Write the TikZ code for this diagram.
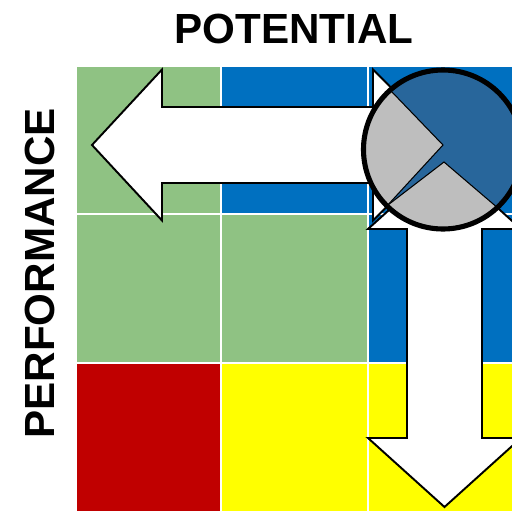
\documentclass[tikz,border=0pt]{standalone}
\usepackage{fontspec}
\setmainfont{Liberation Sans}
\usepackage{xcolor}
\usepackage{tikz}

\definecolor{cellgreen}{RGB}{143,194,131}
\definecolor{cellblue}{RGB}{0,112,192}
\definecolor{cellred}{RGB}{192,0,0}
\definecolor{cellyellow}{RGB}{255,255,0}
\definecolor{pieblue}{RGB}{40,102,155}
\definecolor{piegray}{RGB}{190,190,190}

\begin{document}
\begin{tikzpicture}
            [x=0.02cm, y=-0.02cm,
            axislabel/.style={inner sep=0pt, font=\fontsize{24}{28}\selectfont\bfseries},
            bigarrow/.style={draw=black, fill=white, line width=1.1pt, line join=miter},
            slice/.style={draw=black, fill=piegray, line width=0.6pt}]

            \clip (0,0) rectangle (512,511);
            \fill[white] (0,0) rectangle (512,511);

            % grid of boxes, row by row
            \foreach \row/\ya/\yb/\ca/\cb/\cc in {1/67/213/cellgreen/cellblue/cellblue,
                                                 2/215/362/cellgreen/cellgreen/cellblue,
                                                 3/364/511/cellred/cellyellow/cellyellow} {
                \fill[\ca] (77,\ya) rectangle (220,\yb);
                \fill[\cb] (222,\ya) rectangle (367,\yb);
                \fill[\cc] (369,\ya) rectangle (516,\yb);
            }

            \node[axislabel] (potential) at (294,28.5) {POTENTIAL};
            \node[axislabel, rotate=90] (performance) at (39.5,273.5) {PERFORMANCE};

            \draw[bigarrow] (92,145) -- (162,69.5) -- (162,107) -- (373,107) -- (373,69.5)
                -- (448,145) -- (373,220.5) -- (373,183) -- (162,183) -- (162,220.5) -- cycle;
            \draw[bigarrow] (444.5,160) -- (521,229) -- (482,229) -- (482,438) -- (521,438)
                -- (444.5,507) -- (368,438) -- (407,438) -- (407,229) -- (368,229) -- cycle;

            % the pie in the top right box
            \coordinate (piecenter) at (443,149.5);
            \fill[pieblue] (piecenter) circle[radius=79.5];
            \begin{scope}
                \clip (piecenter) circle[radius=79.5];
                \draw[slice] (443,145) -- (315,12) -- (250,150) -- (305,295) -- cycle;
                \draw[slice] (444,162) -- (276,291) -- (444,400) -- (588,285) -- cycle;
            \end{scope}
            \draw[line width=2.9pt] (piecenter) circle[radius=79.5];
        \end{tikzpicture}
\end{document}
